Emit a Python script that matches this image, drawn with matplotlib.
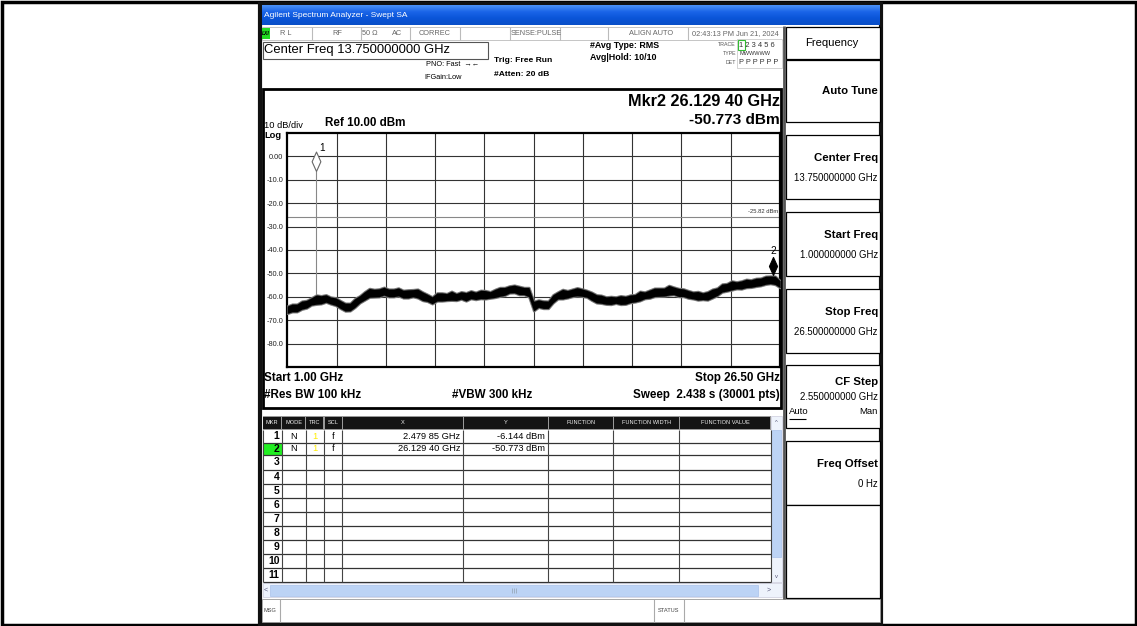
import numpy as np
import matplotlib
matplotlib.use("Agg")
import matplotlib.pyplot as plt
from matplotlib.patches import Rectangle
from matplotlib.path import Path
from matplotlib.colors import LinearSegmentedColormap
from matplotlib import font_manager

# fonts: the analyzer screen uses a narrow sans
names = {f.name for f in font_manager.fontManager.ttflist}
FONT = "Liberation Sans Narrow" if "Liberation Sans Narrow" in names else "Liberation Sans"
SC = 1.0 if FONT == "Liberation Sans Narrow" else 0.85
plt.rcParams["font.family"] = [FONT, "DejaVu Sans"]

# sweep settings
start_ghz = 1.0
stop_ghz = 26.5
ref_dbm = 10.0
db_per_div = 10
display_line = -25.82

# trace envelope (dBm), one pair every 0.25 GHz
freq_ghz = np.arange(1.0, 26.51, 0.25)
trace_hi = [-63.9, -63.1, -63.1, -61.8, -61.5, -60.4, -59.2, -59.5, -59.1, -60.1,
            -60.4, -61.6, -62.7, -62.7, -60.7, -59.5, -57.8, -56.4, -56.8, -56.6,
            -55.9, -56.7, -56.7, -56.2, -57.2, -57.0, -56.9, -56.7, -57.9, -58.9,
            -60.0, -58.3, -58.3, -58.6, -57.6, -58.6, -57.8, -58.2, -57.4, -58.0,
            -57.2, -57.3, -57.8, -56.8, -56.0, -56.0, -55.3, -55.0, -55.5, -56.0,
            -56.0, -61.9, -61.3, -61.7, -61.8, -59.1, -57.9, -56.8, -57.3, -56.7,
            -56.1, -56.6, -57.2, -58.0, -59.1, -59.3, -60.0, -59.8, -60.0, -59.5,
            -59.8, -59.2, -59.0, -57.6, -57.9, -57.1, -56.3, -56.3, -56.3, -55.1,
            -55.8, -56.4, -56.6, -57.3, -57.9, -57.7, -58.3, -57.8, -56.7, -56.2,
            -54.5, -54.3, -53.2, -53.6, -53.2, -52.5, -52.7, -52.1, -52.0, -51.2,
            -51.1, -51.2, -53.1]
trace_lo = [-67.0, -66.3, -66.3, -65.2, -64.7, -63.4, -63.1, -62.9, -62.2, -63.0,
            -63.6, -64.9, -66.0, -65.9, -64.4, -62.5, -61.3, -60.1, -60.0, -59.9,
            -59.2, -59.9, -59.9, -59.5, -60.4, -60.4, -59.9, -60.4, -61.5, -61.9,
            -62.9, -61.7, -61.7, -61.5, -61.4, -61.5, -60.9, -61.7, -60.7, -61.1,
            -60.7, -60.8, -60.5, -60.2, -59.7, -59.3, -58.3, -58.2, -59.0, -59.0,
            -59.9, -65.9, -64.4, -64.9, -64.9, -62.5, -60.8, -60.8, -60.4, -59.8,
            -59.5, -59.7, -60.1, -61.4, -62.5, -62.7, -63.1, -63.2, -62.7, -63.2,
            -63.1, -62.4, -62.1, -61.6, -60.7, -60.5, -59.8, -59.7, -59.6, -59.2,
            -59.0, -59.8, -59.8, -60.5, -60.8, -61.3, -61.1, -61.3, -60.4, -59.4,
            -57.9, -57.5, -57.0, -56.5, -56.6, -56.0, -55.9, -55.5, -55.2, -54.6,
            -54.3, -54.7, -56.0]

# markers
mkr_freq = [2.47985, 26.1294]
mkr_dbm = [-6.144, -50.773]

fig = plt.figure(figsize=(11.37, 6.26), dpi=100)
ui = fig.add_axes([0, 0, 1, 1])
ui.set_xlim(0, 1137)
ui.set_ylim(626, 0)
ui.axis("off")


def rect(x0, y0, x1, y1, fc="white", ec="black", lw=1.0, z=1):
    ui.add_patch(Rectangle((x0, y0), x1 - x0, y1 - y0, facecolor=fc,
                           edgecolor=ec, linewidth=lw, zorder=z))


def line(xs, ys, color="black", lw=1.0, z=2):
    ui.plot(xs, ys, color=color, lw=lw, zorder=z, solid_capstyle="butt")


def label(x, y, s, size, ha="left", bold=False, color="black", z=5, **kw):
    ui.text(x, y, s, fontsize=size * SC, ha=ha, va="center",
            fontweight="bold" if bold else "normal", color=color, zorder=z, **kw)


def fmt_ghz(f):
    s = f"{f:.5f}"
    a, b = s.split(".")
    return f"{a}.{b[:3]} {b[3:]} GHz"


# page frame and screenshot frame
rect(1.5, 1.5, 1135.5, 624.5, fc="none", ec="black", lw=2.5)
rect(260, 3.5, 881, 623.5, fc="white", ec="#111", lw=3)

# title bar
cmap = LinearSegmentedColormap.from_list("xp", ["#4a90f5", "#1a64e8", "#0a55d8", "#0b4fc8"])
ui.imshow(np.linspace(0, 1, 30).reshape(-1, 1), extent=(261.5, 879.5, 25, 5),
          aspect="auto", cmap=cmap, zorder=1)
ui.set_xlim(0, 1137)
ui.set_ylim(626, 0)
label(264, 15.5, "Agilent Spectrum Analyzer - Swept SA", 7.1, color="white")

# status row
rect(261.5, 27, 783, 40, fc="white", ec="#bbb", lw=0.6)
rect(261.5, 28, 270, 39, fc="#22dd22", ec="none", z=3)
label(262, 33.5, "LXI", 4.2, bold=True, style="italic", z=6)
for x in [312, 361, 410, 460, 510, 560, 608, 688]:
    line([x, x], [27, 40], color="#bbb", lw=0.8)
status = [(280, "R L", "left"), (337, "RF", "center"), (370, "50 Ω", "center"),
          (397, "AC", "center"), (435, "CORREC", "center"), (536, "SENSE:PULSE", "center"),
          (651, "ALIGN AUTO", "center"), (735, "02:43:13 PM Jun 21, 2024", "center")]
for x, s, ha in status:
    label(x, 33.5, s, 6.3, ha=ha, color="#666")

# header info
center_ghz = (start_ghz + stop_ghz) / 2
span_ghz = stop_ghz - start_ghz
rect(262.5, 42, 488, 58.5, fc="white", ec="#555", lw=0.8)
label(263.5, 50, f"Center Freq {center_ghz:.9f} GHz", 11.0)
label(426, 64, "PNO: Fast  →←", 6.3)
label(424, 77.5, "IFGain:Low", 6.3)
label(494, 61, "Trig: Free Run", 7.2, bold=True)
label(494, 75, "#Atten: 20 dB", 7.2, bold=True)
label(590, 46, "#Avg Type: RMS", 7.5, bold=True)
label(590, 57.5, "Avg|Hold: 10/10", 7.5, bold=True)
rect(737, 39, 782, 68, fc="white", ec="#ccc", lw=0.6)
rect(738, 40, 745, 50, fc="none", ec="#33bb33", lw=0.8, z=3)
label(736, 45, "TRACE", 4.5, ha="right", color="#555")
label(736, 53.5, "TYPE", 4.5, ha="right", color="#555")
label(736, 62, "DET", 4.5, ha="right", color="#555")
label(739, 45.5, "1 2 3 4 5 6", 6.4, color="#333")
label(739, 53.5, "MWWWWW", 4.8, color="#333")
label(739, 62.5, "P P P P P P", 6.2, color="#333")

# graph box
rect(262.5, 89, 781, 408, fc="white", ec="black", lw=2)
m2 = 1
label(780, 102, f"Mkr{m2 + 1} {fmt_ghz(mkr_freq[m2])}", 13.8, ha="right", bold=True)
label(780, 120, f"{mkr_dbm[m2]:.3f} dBm", 13.0, ha="right", bold=True)
label(264, 125.5, f"{db_per_div} dB/div", 7.8)
label(325, 123, f"Ref {ref_dbm:.2f} dBm", 9.8, bold=True)
label(264, 135, "Log", 7.8, bold=True)
label(264, 378, f"Start {start_ghz:.2f} GHz", 9.8, bold=True)
label(780, 378, f"Stop {stop_ghz:.2f} GHz", 9.8, ha="right", bold=True)
label(264, 395, "#Res BW 100 kHz", 9.8, bold=True)
label(452, 395, "#VBW 300 kHz", 9.8, bold=True)
label(780, 395, "Sweep  2.438 s (30001 pts)", 9.9, ha="right", bold=True)

# marker table
cols = [262.5, 281.7, 305.7, 324, 342.3, 463.3, 548.3, 613.3, 679.3, 770.7]
heads = ["MKR", "MODE", "TRC", "SCL", "X", "Y", "FUNCTION", "FUNCTION WIDTH", "FUNCTION VALUE"]
rect(262.5, 416, 770.7, 429.5, fc="#999", ec="none")
for i, h in enumerate(heads):
    rect(cols[i] + 0.7, 416.5, cols[i + 1] - 0.7, 429, fc="#141414", ec="none", z=2)
    label((cols[i] + cols[i + 1]) / 2, 422.8, h, 4.8, ha="center", color="#eee")
rows = [429.5, 442.7, 455, 469.5, 483.5, 497.5, 511.5, 525.7, 540, 554, 568, 581.7]
rect(262.5, 443, 281.5, 455, fc="#22ee22", ec="none", z=1.5)
for y in rows[1:]:
    line([262.5, 770.7], [y, y], color="#333", lw=0.9)
for x in cols:
    line([x, x], [429.5, 581.7], color="#444", lw=0.8)
for k in range(11):
    yc = (rows[k] + rows[k + 1]) / 2
    label(279.5, yc, str(k + 1), 8.8, ha="right", bold=True)
for k in range(len(mkr_freq)):
    yc = (rows[k] + rows[k + 1]) / 2
    label(293.7, yc, "N", 7.8, ha="center")
    label(315, yc, "1", 7.8, ha="center", color="#ffee00")
    label(333, yc, "f", 7.8, ha="center")
    label(460, yc, fmt_ghz(mkr_freq[k]), 7.9, ha="right")
    label(545, yc, f"{mkr_dbm[k]:.3f} dBm", 7.9, ha="right")

# scroll bars
rect(771, 416, 782, 582, fc="#eef3fc", ec="#ccd", lw=0.5)
rect(772, 430, 781, 557, fc="#bcd3f5", ec="#a9c2ea", lw=0.5, z=2)
label(776.5, 422, "^", 5, ha="center", color="#557")
label(776.5, 576, "v", 5, ha="center", color="#557")
rect(262.5, 583, 782, 597, fc="#eef3fc", ec="#ccd", lw=0.5)
rect(270, 584.5, 758, 595.5, fc="#bcd3f5", ec="#a9c2ea", lw=0.5, z=2)
label(264, 590, "<", 6, color="#557")
label(767, 590, ">", 6, color="#557")
for x in [512, 514, 516]:
    line([x, x], [587.5, 592.5], color="#9ab", lw=0.6, z=3)

# message bar
rect(262, 599, 880, 622, fc="white", ec="#999", lw=0.6)
for x in [280, 654, 684]:
    line([x, x], [599, 622], color="#aaa", lw=0.8)
label(263, 611, "MSG", 4.8, color="#444")
label(669, 610, "STATUS", 4.8, ha="center", color="#444")

# softkeys
line([784, 784], [26, 599], color="#555", lw=2)
rect(786, 27, 879.5, 59, fc="white", ec="black", lw=0.9)
label(832, 43, "Frequency", 9.5, ha="center")
keys = [
    (60, 122, "Auto Tune", None),
    (135, 199, "Center Freq", f"{center_ghz:.9f} GHz"),
    (212, 276, "Start Freq", f"{start_ghz:.9f} GHz"),
    (289, 353, "Stop Freq", f"{stop_ghz:.9f} GHz"),
    (365, 428, "CF Step", f"{span_ghz / 10:.9f} GHz"),
    (441, 505, "Freq Offset", "0 Hz"),
]
for y0, y1, title, val in keys:
    rect(786, y0, 879.5, y1, fc="white", ec="black", lw=0.9)
    if val is None:
        label(878, (y0 + y1) / 2, title, 9.6, ha="right", bold=True)
    elif title == "CF Step":
        label(878, y0 + 17, title, 9.6, ha="right", bold=True)
        label(878, y0 + 32, val, 8.2, ha="right")
    else:
        label(878, y0 + 23, title, 9.6, ha="right", bold=True)
        label(878, y0 + 43, val, 8.2, ha="right")
label(788.5, 412, "Auto", 8.0)
line([788.5, 806], [418.5, 418.5], lw=0.8, z=6)
label(878, 412, "Man", 8.0, ha="right")
rect(786, 505, 879.5, 598, fc="white", ec="black", lw=0.9)

# spectrum graticule
L, R, T, B = 287.3, 780.0, 132.7, 367.3
ax = fig.add_axes([L / 1137, 1 - B / 626, (R - L) / 1137, (B - T) / 626], zorder=2)
ax.set_facecolor("white")
ax.set_xlim(start_ghz, stop_ghz)
ax.set_ylim(ref_dbm - 10 * db_per_div, ref_dbm)
ax.set_xticks(np.linspace(start_ghz, stop_ghz, 11)[1:-1])
yt = np.arange(ref_dbm - db_per_div, ref_dbm - 10 * db_per_div, -db_per_div)
ax.set_yticks(yt)
ax.set_yticklabels([f"{v:.2f}" if abs(v) < 10 else f"{v:.1f}" for v in yt])
ax.tick_params(length=0, labelbottom=False, labelsize=6.2 * SC, labelcolor="#222", pad=3)
ax.grid(True, color="#333", lw=0.8)
for s in ax.spines.values():
    s.set_color("black")
    s.set_linewidth(1.6)

ax.axhline(display_line, color="#888", lw=0.8, zorder=2)
ax.text(stop_ghz - 0.08, display_line + 1.2, f"{display_line:.2f} dBm", ha="right",
        va="bottom", fontsize=5 * SC, color="#333")

# noisy trace: grey fringe under a black core
ax.fill_between(freq_ghz, trace_lo, trace_hi, color="#777", lw=1.8, zorder=3)
ax.fill_between(freq_ghz, trace_lo, trace_hi, color="black", lw=0.2, zorder=3.1)
base = np.interp(mkr_freq, freq_ghz, trace_lo)
ax.vlines(mkr_freq, base, mkr_dbm, color="#888", lw=0.8, zorder=3)

diamond = Path([(0, 0), (0.45, 1), (0, 2), (-0.45, 1), (0, 0)],
               [Path.MOVETO, Path.LINETO, Path.LINETO, Path.LINETO, Path.CLOSEPOLY])
ax.plot(mkr_freq[0], mkr_dbm[0], marker=diamond, ms=28, mfc="white", mec="#666",
        mew=0.8, zorder=4, clip_on=False)
ax.plot(mkr_freq[1], mkr_dbm[1], marker=diamond, ms=26, mfc="black", mec="black",
        mew=0.8, zorder=4, clip_on=False)
offs = [(2.5, 16), (0, 17.5)]
for k in range(len(mkr_freq)):
    ax.annotate(str(k + 1), (mkr_freq[k], mkr_dbm[k]), xytext=offs[k],
                textcoords="offset points", fontsize=8.5 * SC,
                ha="left" if k == 0 else "center", va="center", zorder=5)

fig.savefig("out.png", dpi=100)
